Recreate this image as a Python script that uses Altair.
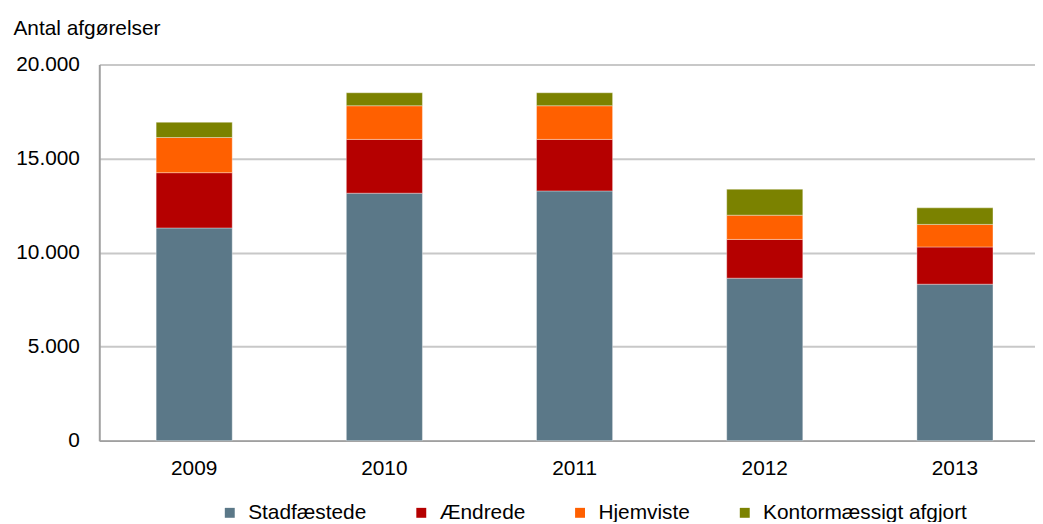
import altair as alt
import pandas as pd

years = ["2009", "2010", "2011", "2012", "2013"]
categories = ["Stadfæstede", "Ændrede", "Hjemviste", "Kontormæssigt afgjort"]
stadfaestede = [11310, 13160, 13280, 8640, 8320]
aendrede = [2940, 2860, 2740, 2060, 1980]
hjemviste = [1870, 1790, 1790, 1290, 1200]
kontor = [810, 690, 690, 1380, 880]
colors = ["#5B7888", "#B50000", "#FF6000", "#7B8200"]
y_ticks = [0, 5000, 10000, 15000, 20000]

series = [stadfaestede, aendrede, hjemviste, kontor]
rows = []
for ci, (cat, vals) in enumerate(zip(categories, series)):
    for yr, v in zip(years, vals):
        rows.append({"year": yr, "cat": cat, "value": v, "ord": ci})
df = pd.DataFrame(rows)

FONT = "Liberation Sans"

chart = alt.Chart(df).mark_bar(stroke="#ffffff", strokeWidth=0.6, strokeOpacity=0.6).encode(
    x=alt.X("year:N", sort=years,
            scale=alt.Scale(paddingInner=0.6, paddingOuter=0.26, align=0.575),
            axis=alt.Axis(title=None, labelAngle=0, ticks=False, domain=True,
                          domainColor="#a0a0a0", domainWidth=2, labelFontSize=21,
                          labelFont=FONT, labelColor="#000000", labelPadding=17)),
    y=alt.Y("value:Q", stack="zero",
            scale=alt.Scale(domain=[0, 20000], nice=False),
            axis=alt.Axis(values=y_ticks, title="Antal afgørelser", titleAngle=0,
                          titleX=-87, titleY=-30, titleAlign="left",
                          titleBaseline="alphabetic", titleFont=FONT,
                          titleFontSize=21, titleFontWeight="normal",
                          titleColor="#000000",
                          labelExpr="replace(format(datum.value, ','), ',', '.')",
                          ticks=False, domain=True, domainColor="#a0a0a0",
                          domainWidth=2, grid=True, gridColor="#c8c8c8",
                          gridWidth=2, labelFontSize=21, labelFont=FONT,
                          labelColor="#000000", labelPadding=20)),
    color=alt.Color("cat:N", sort=categories,
                    scale=alt.Scale(domain=categories, range=colors),
                    legend=alt.Legend(title=None, orient="none", legendX=121,
                                      legendY=441, direction="horizontal",
                                      columns=4, symbolType="square",
                                      symbolSize=100, symbolStrokeWidth=0,
                                      labelFontSize=21, labelFont=FONT,
                                      labelColor="#000000", columnPadding=44,
                                      labelOffset=8, labelLimit=400)),
    order=alt.Order("ord:Q", sort="ascending"),
).properties(
    width=943, height=379,
    autosize=alt.AutoSizeParams(type="none"),
    padding={"left": 92, "top": 55, "right": 0, "bottom": 80},
).configure_view(stroke=None)

chart.save("out.html", embed_options={"renderer": "svg", "actions": False})
